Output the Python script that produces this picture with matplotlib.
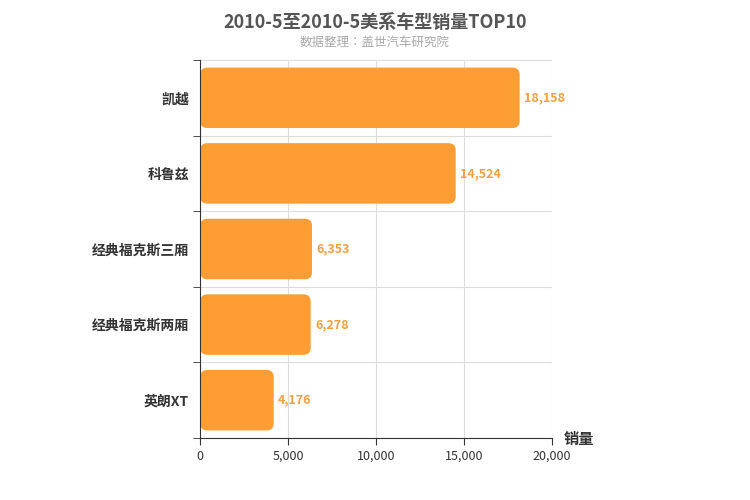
import matplotlib
matplotlib.use('Agg')
import matplotlib.pyplot as plt
from matplotlib.patches import FancyBboxPatch

plt.rcParams['font.family'] = ['Noto Sans CJK SC', 'Noto Sans CJK JP', 'Noto Sans CJK TC',
                               'Noto Sans CJK KR', 'DejaVu Sans']

# ── Data ───────────────────────────────────────────────────────────────────
models = ['凯越', '科鲁兹', '经典福克斯三厢', '经典福克斯两厢', '英朗XT']
sales = [18158, 14524, 6353, 6278, 4176]
xticks = [0, 5000, 10000, 15000, 20000]

BAR = '#ff9d35'

fig = plt.figure(figsize=(7.5, 5), dpi=100)
ax = fig.add_axes([0.267, 0.124, 0.469, 0.756])

n = len(models)
h = 0.8
# ratio of y-units per pixel to x-units per pixel, so corners stay round
aspect = (n / 378) / (20000 / 352)
for i, v in enumerate(sales):
    y = n - 1 - i
    ax.add_patch(FancyBboxPatch((0, y - h / 2), v, h,
                                boxstyle='round,pad=0,rounding_size=400',
                                mutation_aspect=aspect,
                                facecolor=BAR, edgecolor='none'))
    ax.text(v + 250, y, f'{v:,}', va='center', ha='left',
            color='#f0a040', fontsize=9, fontweight='bold')

ax.set_xlim(0, 20000)
ax.set_ylim(-0.5, n - 0.5)
ax.set_xticks(xticks)
ax.set_xticklabels([f'{t:,}' for t in xticks], fontsize=9, color='#333')
ax.set_yticks(range(n))
ax.set_yticklabels(models[::-1], fontsize=10, fontweight='bold', color='#333')
ax.set_yticks([k - 0.5 for k in range(n + 1)], minor=True)
ax.tick_params(axis='y', which='major', length=0, pad=8)
ax.tick_params(axis='y', which='minor', length=5, color='#333')
ax.tick_params(axis='x', length=5, color='#333')
ax.grid(axis='x', color='#dddddd', linewidth=0.8)
ax.grid(axis='y', which='minor', color='#dddddd', linewidth=0.8)
ax.set_axisbelow(True)
for s in ['top', 'right']:
    ax.spines[s].set_visible(False)
ax.spines['left'].set_color('#333')
ax.spines['bottom'].set_color('#333')

fig.text(0.5, 0.955, '2010-5至2010-5美系车型销量TOP10', ha='center', va='center',
         fontsize=13, fontweight='bold', color='#555')
fig.text(0.5, 0.915, '数据整理：盖世汽车研究院', ha='center', va='center',
         fontsize=9, color='#aaaaaa')
fig.text(0.752, 0.122, '销量', ha='left', va='center', fontsize=11,
         fontweight='bold', color='#333')

plt.savefig('out.png', dpi=100)
